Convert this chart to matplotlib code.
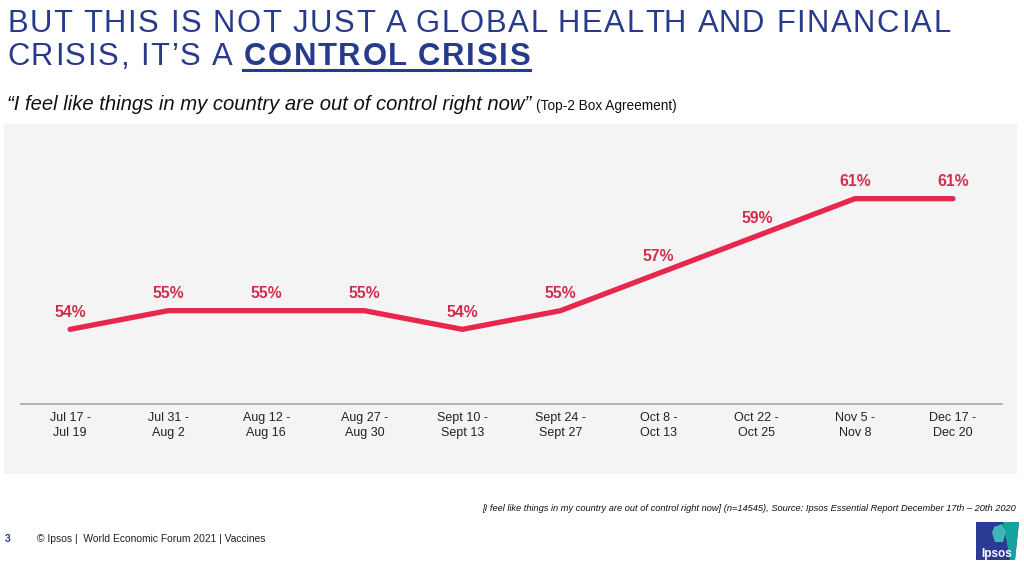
import numpy as np
import matplotlib
matplotlib.use('Agg')
from matplotlib import pyplot as plt
from matplotlib.patches import Rectangle, Polygon

# data
periods = ['Jul 17 -\nJul 19', 'Jul 31 -\nAug 2', 'Aug 12 -\nAug 16', 'Aug 27 -\nAug 30',
           'Sept 10 -\nSept 13', 'Sept 24 -\nSept 27', 'Oct 8 -\nOct 13', 'Oct 22 -\nOct 25',
           'Nov 5 -\nNov 8', 'Dec 17 -\nDec 20']
agree = [54, 55, 55, 55, 54, 55, 57, 59, 61, 61]

W, H = 1024, 564
blue = '#273a8c'
red = '#e8264e'
red_lbl = '#d42a4c'

plt.rcParams['font.family'] = ['Liberation Sans', 'DejaVu Sans']
fig = plt.figure(figsize=(W/100, H/100), dpi=100)
fig.patch.set_facecolor('white')
renderer = fig.canvas.get_renderer()

def px(x, y):
    return x / W, 1 - y / H

def tracked(x, y, s, track, **kw):
    # draw string char by char with extra spacing, returns right edge in px
    probe = fig.text(0, 0, '', **kw)
    for i, ch in enumerate(s):
        probe.set_text(s[:i] if i else '')
        w = probe.get_window_extent(renderer).width if i else 0
        if ch != ' ':
            fig.text((x + w + i * track) / W, 1 - y / H, ch, ha='left', va='baseline', **kw)
    probe.set_text(s)
    end = x + probe.get_window_extent(renderer).width + (len(s) - 1) * track
    probe.remove()
    return end

# grey panel
x0, y0 = px(4, 474)
fig.patches.append(Rectangle((x0, y0), 1013/W, 350/H, transform=fig.transFigure,
                             facecolor='#f4f4f4', edgecolor='none', zorder=-5))

# chart axes
ax = fig.add_axes([21/W, 1 - 404/H, 981/W, 280/H])
ax.set_zorder(2)
ax.set_facecolor('none')
xs = np.arange(len(agree))
ax.plot(xs, agree, color=red, lw=3.8, solid_capstyle='round', solid_joinstyle='miter')
for x, v in zip(xs, agree):
    ax.annotate(f'{v}%', (x, v), xytext=(0, 7), textcoords='offset points',
                ha='center', va='bottom', fontsize=11.3, fontweight='bold', color=red_lbl)
ax.set_xlim(-0.5, 9.5)
ax.set_ylim(50, 65)
ax.set_yticks([])
ax.set_xticks(xs)
ax.set_xticklabels(periods, fontsize=9, color='#222222', linespacing=1.35)
ax.tick_params(axis='x', length=0, pad=6)
for s in ['top', 'right', 'left']:
    ax.spines[s].set_visible(False)
ax.spines['bottom'].set_color('#a6a6a6')
ax.spines['bottom'].set_linewidth(1.2)

# title
tfs = 22.3
tracked(7, 32, 'BUT THIS IS NOT JUST A GLOBAL HEALTH AND FINANCIAL', 1.6,
        fontsize=tfs, color=blue)
e2 = tracked(7, 65, 'CRISIS, IT\u2019S A ', 1.6, fontsize=tfs, color=blue)
e3 = tracked(244, 65, 'CONTROL CRISIS', 1.6, fontsize=tfs, color=blue, fontweight='bold')
fig.add_artist(plt.Line2D([243 / W, e3 / W], [1 - 70/H, 1 - 70/H],
                          transform=fig.transFigure, color=blue, lw=2.2))

# subtitle
s1 = fig.text(*px(7, 110), '\u201cI feel like things in my country are out of control right now\u201d',
              fontsize=14.6, style='italic', color='#111111', ha='left', va='baseline')
bs = s1.get_window_extent(renderer)
fig.text(bs.x1 / W + 5/W, 1 - 110/H, '(Top-2 Box Agreement)', fontsize=9.8,
         color='#111111', ha='left', va='baseline')

# source note
fig.text(*px(1016, 511), '[I feel like things in my country are out of control right now] (n=14545), '
         'Source: Ipsos Essential Report December 17th \u2013 20th 2020',
         fontsize=6.7, style='italic', color='#111111', ha='right', va='baseline')

# footer
fig.text(*px(5, 542), '3', fontsize=7.4, fontweight='bold', color=blue, ha='left', va='baseline')
fig.text(*px(37, 542), '\u00a9 Ipsos |  World Economic Forum 2021 | Vaccines', fontsize=7.4,
         color='#222222', ha='left', va='baseline')

# logo
fig.patches.append(Polygon([px(976, 560), px(976, 522), px(1019, 522), px(1015, 560)],
                           closed=True, transform=fig.transFigure, facecolor='#2b3a94',
                           edgecolor='none'))
fig.patches.append(Polygon([px(1003, 522), px(1019, 522), px(1015, 560), px(1010, 560)],
                           closed=True, transform=fig.transFigure, facecolor='#16a3a0',
                           edgecolor='none'))
fig.patches.append(Polygon([px(994, 527), px(1002, 524), px(1006, 532), px(1003, 542),
                            px(995, 542), px(992, 533)],
                           closed=True, transform=fig.transFigure, facecolor='#3fb7b5',
                           edgecolor='none'))
fig.text(*px(997, 557), 'Ipsos', fontsize=8.5, fontweight='bold', color='white',
         ha='center', va='baseline')

fig.savefig('out.png', dpi=100, facecolor='white')
